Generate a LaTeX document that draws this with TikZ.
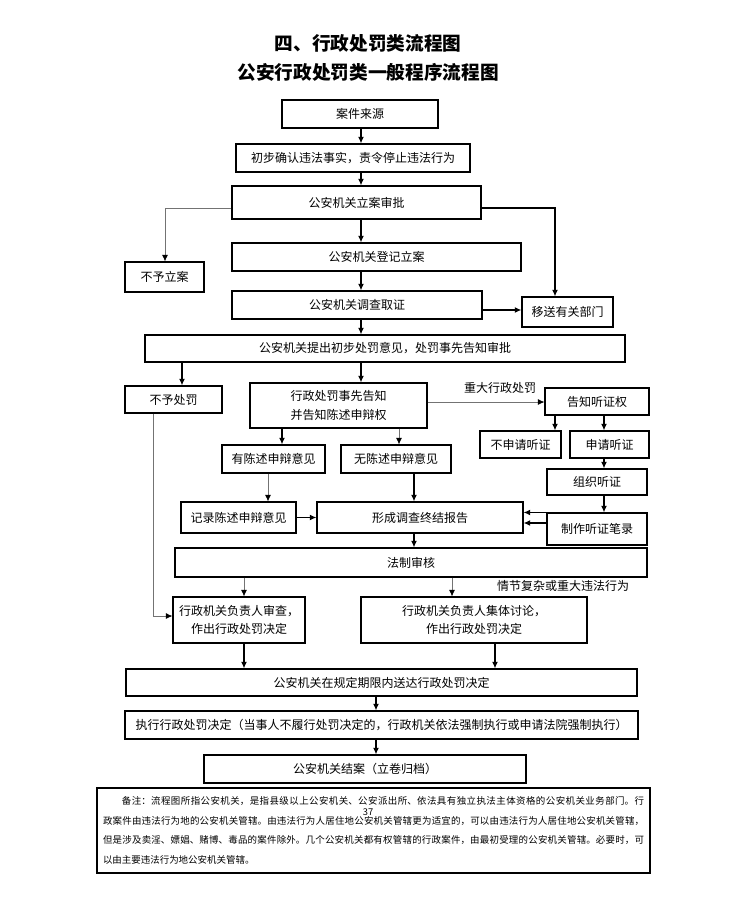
\documentclass[tikz,border=0pt]{standalone}
\usepackage{fontspec}
\setmainfont{Noto Sans CJK SC}
\usetikzlibrary{arrows.meta}
\XeTeXlinebreaklocale "zh"
\XeTeXlinebreakskip = 0pt plus 2pt
\tikzset{
  box/.style={draw=black, line width=0.8pt, inner sep=0pt, align=center, font=\fontsize{9}{14}\selectfont},
  arr/.style={draw=black, line width=1pt, -{Latex[length=5pt,width=4.5pt]}},
  garr/.style={draw=black!55, line width=0.6pt, -{Latex[length=5pt,width=4.5pt,black]}},
  lbl/.style={inner sep=0pt, font=\fontsize{9}{11}\selectfont},
  ttl/.style={inner sep=0pt, font=\fontsize{14}{16}\selectfont\bfseries},
}
\newcommand\bx[6]{\node[box, minimum width={(#4-#2)*0.75pt}, minimum height={(#5-#3)*0.75pt}] (#1) at ({(#2+#4)/2},{(#3+#5)/2}) {#6};}
\begin{document}
\begin{tikzpicture}[x=0.75pt,y=-0.75pt]
\useasboundingbox[fill=white] (0,0) rectangle (748,900);

\node[ttl] (t1) at (368,43) {四、行政处罚类流程图};
\node[ttl] (t2) at (368,72) {公安行政处罚类一般程序流程图};

\bx{src}{282}{100}{438}{128}{案件来源}
\bx{chubu}{236}{144}{470}{172}{初步确认违法事实，责令停止违法行为}
\bx{lian}{232}{186}{481}{219}{公安机关立案审批}
\bx{buyu}{125}{262}{204}{292}{不予立案}
\bx{dengji}{232}{243}{521}{271}{公安机关登记立案}
\bx{diaocha}{232}{291}{482}{319}{公安机关调查取证}
\bx{yisong}{522}{297}{613}{327}{移送有关部门}
\bx{tichu}{145}{335}{625}{362}{公安机关提出初步处罚意见，处罚事先告知审批}
\bx{bycf}{125}{386}{222}{413}{不予处罚}
\bx{gaozhi}{250}{383}{427}{428}{行政处罚事先告知\\并告知陈述申辩权}
\bx{tzq}{545}{388}{649}{415}{告知听证权}
\bx{bsq}{480}{431}{561}{458}{不申请听证}
\bx{sq}{570}{431}{649}{458}{申请听证}
\bx{you}{222}{445}{325}{473}{有陈述申辩意见}
\bx{wu}{341}{445}{451}{473}{无陈述申辩意见}
\bx{zuzhi}{547}{469}{647}{495}{组织听证}
\bx{jilu}{181}{502}{296}{533}{记录陈述申辩意见}
\bx{xc}{317}{502}{523}{533}{形成调查终结报告}
\bx{zhizuo}{547}{513}{647}{545}{制作听证笔录}
\bx{fz}{175}{548}{647}{577}{法制审核}
\bx{sc}{173}{597}{305}{643}{行政机关负责人审查，\\作出行政处罚决定}
\bx{jt}{361}{597}{587}{643}{行政机关负责人集体讨论，\\作出行政处罚决定}
\bx{sd}{126}{669}{637}{696}{公安机关在规定期限内送达行政处罚决定}
\bx{zx}{125}{711}{638}{739}{执行行政处罚决定（当事人不履行处罚决定的，行政机关依法强制执行或申请法院强制执行）}
\bx{ja}{204}{755}{526}{783}{公安机关结案（立卷归档）}

\node[draw, line width=0.8pt, minimum width={553*0.75pt}, minimum height={85*0.75pt}, inner sep=0pt] (note) at (373.5,830.5) {};
\node[text width={541*0.75pt}, inner sep=0pt, font=\fontsize{7.1}{14.6}\selectfont, align=justify] (notetext) at (note.center) {\hspace*{2em}备注：流程图所指公安机关，是指县级以上公安机关、公安派出所、依法具有独立执法主体资格的公安机关业务部门。行\linebreak 政案件由违法行为地的公安机关管辖。由违法行为人居住地公安机关管辖更为适宜的，可以由违法行为人居住地公安机关管辖，\linebreak 但是涉及卖淫、嫖娼、赌博、毒品的案件除外。几个公安机关都有权管辖的行政案件，由最初受理的公安机关管辖。必要时，可\linebreak 以由主要违法行为地公安机关管辖。};
\node[inner sep=0pt, font=\fontsize{7}{8}\selectfont] (pg) at (368,812) {37};

% column / row coordinates
\coordinate (cA) at (361,0);
\coordinate (cL) at (165,0);
\coordinate (cR) at (555,0);
\coordinate (cNP) at (182,0);
\coordinate (cB1) at (282,0);
\coordinate (cB2) at (399,0);
\coordinate (cH1) at (555,0);
\coordinate (cH2) at (604,0);
\coordinate (cD1) at (268,0);
\coordinate (cD2) at (414,0);
\coordinate (cV) at (153,0);
\coordinate (cF1) at (244,0);
\coordinate (cF2) at (452,0);
\coordinate (cF3) at (495,0);
\coordinate (cS) at (376,0);
\coordinate (rL) at (0,208);
\coordinate (rD) at (0,310);
\coordinate (rG) at (0,402);
\coordinate (rZ) at (0,523);
\coordinate (rV) at (0,616);

\draw[arr] (src.south -| cA) -- (chubu.north -| cA);
\draw[arr] (chubu.south -| cA) -- (lian.north -| cA);
\draw[arr] (lian.south -| cA) -- (dengji.north -| cA);
\draw[garr] (lian.west |- rL) -| (buyu.north -| cL);
\draw[arr] (lian.east |- rL) -| (yisong.north -| cR);
\draw[arr] (dengji.south -| cA) -- (diaocha.north -| cA);
\draw[arr] (diaocha.east |- rD) -- (yisong.west |- rD);
\draw[arr] (diaocha.south -| cA) -- (tichu.north -| cA);
\draw[arr] (tichu.south -| cNP) -- (bycf.north -| cNP);
\draw[arr] (tichu.south -| cA) -- (gaozhi.north -| cA);
\draw[garr] (gaozhi.east |- rG) -- (tzq.west |- rG);
\node[lbl] (zd) at (500,388) {重大行政处罚};
\draw[arr] (tzq.south -| cH1) -- (bsq.north -| cH1);
\draw[arr] (tzq.south -| cH2) -- (sq.north -| cH2);
\draw[arr] (sq.south -| cH2) -- (zuzhi.north -| cH2);
\draw[arr] (zuzhi.south -| cH2) -- (zhizuo.north -| cH2);
\draw[arr] (zhizuo.north west) -- (zhizuo.north west -| xc.east);
\draw[arr] (zhizuo.west |- rZ) -- (xc.east |- rZ);
\draw[arr] (gaozhi.south -| cB1) -- (you.north -| cB1);
\draw[garr] (gaozhi.south -| cB2) -- (wu.north -| cB2);
\draw[garr] (you.south -| cD1) -- (jilu.north -| cD1);
\draw[arr] (wu.south -| cD2) -- (xc.north -| cD2);
\draw[arr] (jilu.east) -- (xc.west);
\draw[arr] (xc.south -| cD2) -- (fz.north -| cD2);
\draw[garr] (bycf.south -| cV) |- (sc.west |- rV);
\draw[garr] (fz.south -| cF1) -- (sc.north -| cF1);
\draw[garr] (fz.south -| cF2) -- (jt.north -| cF2);
\node[lbl] (qj) at (563,586) {情节复杂或重大违法行为};
\draw[arr] (sc.south -| cF1) -- (sd.north -| cF1);
\draw[arr] (jt.south -| cF3) -- (sd.north -| cF3);
\draw[arr] (sd.south -| cS) -- (zx.north -| cS);
\draw[arr] (zx.south -| cS) -- (ja.north -| cS);
\end{tikzpicture}
\end{document}
